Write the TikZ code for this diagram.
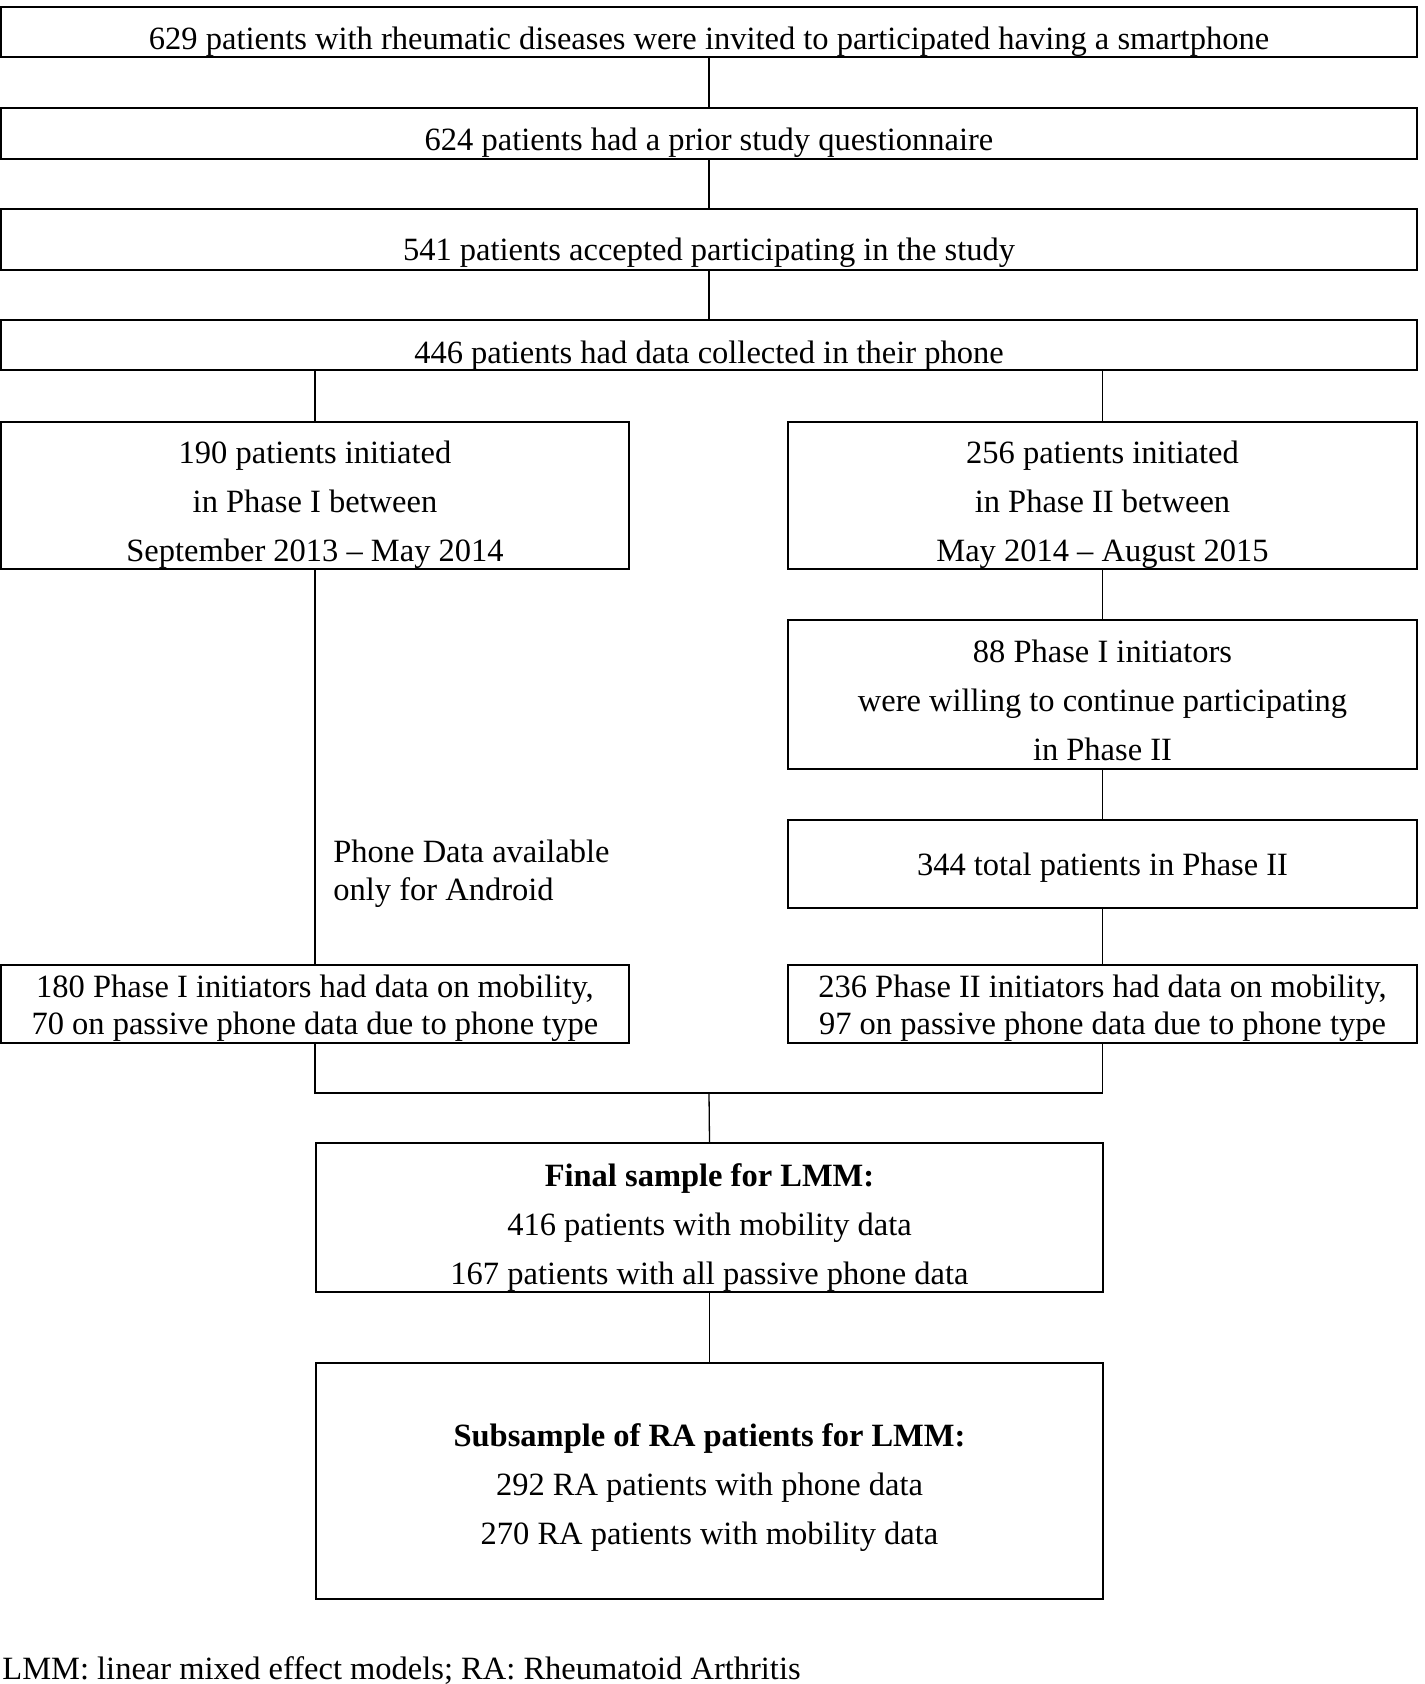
\documentclass[tikz,border=0pt]{standalone}
\usepackage{fontspec}
\setmainfont{Liberation Serif}
\usetikzlibrary{positioning}

\newcommand{\textdrop}[1]{\rule{0pt}{#1}}

\tikzset{
	box/.style={draw, line width=0.9pt, inner sep=0pt, align=center, font=\fontsize{16.25}{24.5}\selectfont},
	tightbox/.style={box, font=\fontsize{16.25}{18.8}\selectfont},
	link/.style={line width=0.65pt},
	note/.style={inner sep=0pt, align=left, font=\fontsize{16.25}{18.8}\selectfont}
}

\begin{document}
\begin{tikzpicture}[x=0.5pt, y=-0.5pt]
	\useasboundingbox (0,0) rectangle (1424,1684);
	%Invited
		\node[box, minimum width=708pt, minimum height=25pt] (invited) at (709,32) {\textdrop{20.8pt}629 patients with rheumatic diseases were invited to participated having a smartphone};
	%Questionnaire
		\node[box, minimum width=708pt, minimum height=25.5pt] (prior) at (709,133.5) {\textdrop{20.8pt}624 patients had a prior study questionnaire};
	%Accepted
		\node[box, minimum width=708pt, minimum height=30.5pt] (accepted) at (709,239.5) {\textdrop{25pt}541 patients accepted participating in the study};
	%Collected
		\node[box, minimum width=708pt, minimum height=25pt] (collected) at (709,345) {\textdrop{21.8pt}446 patients had data collected in their phone};
	%Phase I
		\node[box, minimum width=314pt, minimum height=73.5pt] (phaseone) at (315,495.5) {\textdrop{20.8pt}190 patients initiated\\in Phase I between\\September 2013 – May 2014};
	%Phase II
		\node[box, minimum width=314.5pt, minimum height=73.5pt] (phasetwo) at (1102.5,495.5) {\textdrop{20.8pt}256 patients initiated\\in Phase II between\\May 2014 – August 2015};
		\node[box, minimum width=314.5pt, minimum height=74.5pt] (continued) at (1102.5,694.5) {\textdrop{17.5pt}88 Phase I initiators\\were willing to continue participating\\in Phase II};
		\node[box, minimum width=314.5pt, minimum height=44pt] (totaltwo) at (1102.5,864) {\textdrop{15.4pt}344 total patients in Phase II};
	%Mobility
		\node[tightbox, minimum width=314pt, minimum height=39pt] (mobone) at (315,1004) {\textdrop{15.4pt}180 Phase I initiators had data on mobility,\\70 on passive phone data due to phone type};
		\node[tightbox, minimum width=314.5pt, minimum height=39pt] (mobtwo) at (1102.5,1004) {\textdrop{15.4pt}236 Phase II initiators had data on mobility,\\97 on passive phone data due to phone type};
		\node[note, anchor=west] (android) at (333,874) {Phone Data available\\only for Android};
	%Final
		\node[box, minimum width=393.5pt, minimum height=74.5pt] (final) at (709.5,1217.5) {\textdrop{21.8pt}\textbf{Final sample for LMM:}\\416 patients with mobility data\\167 patients with all passive phone data};
		\node[box, minimum width=393.5pt, minimum height=118pt] (subsample) at (709.5,1481) {\textdrop{17.5pt}\textbf{Subsample of RA patients for LMM:}\\292 RA patients with phone data\\270 RA patients with mobility data};
	%Footnote
		\node[note, anchor=west] (footnote) at (2,1671) {LMM: linear mixed effect models; RA: Rheumatoid Arthritis};
	%Connectors
		\coordinate (join) at (709,1093);
		\draw[link] (invited) -- (prior);
		\draw[link] (prior) -- (accepted);
		\draw[link] (accepted) -- (collected);
		\draw[link] (collected.south -| phaseone.north) -- (phaseone.north);
		\draw[link] (collected.south -| phasetwo.north) -- (phasetwo.north);
		\draw[link] (phaseone) -- (mobone);
		\draw[link] (phasetwo) -- (continued);
		\draw[link] (continued) -- (totaltwo);
		\draw[link] (totaltwo) -- (mobtwo);
		\draw[link] (mobone.south) -- (mobone.south |- join) -- (mobtwo.south |- join) -- (mobtwo.south);
		\draw[link] (join) -- (final.north);
		\draw[link] (final) -- (subsample);
\end{tikzpicture}
\end{document}
